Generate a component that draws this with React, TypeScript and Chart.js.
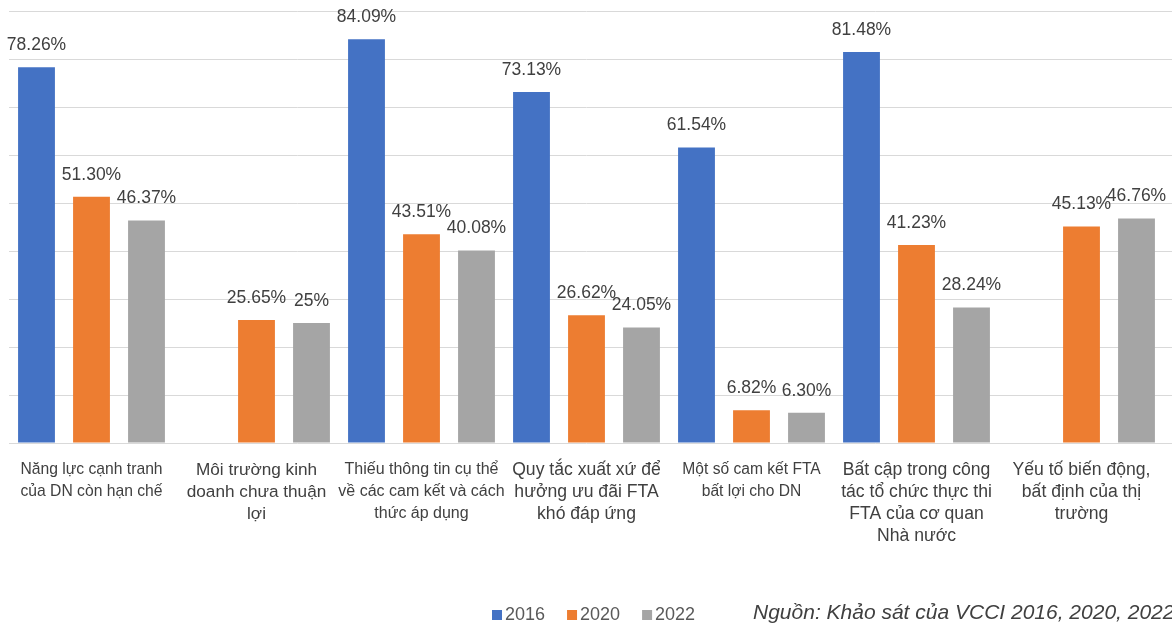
import React, { useEffect, useRef } from "react";
import { Chart, registerables } from "chart.js";

Chart.register(...registerables);

// ---------- DATA ----------
const categories: string[][] = [
  ["Năng lực cạnh tranh", "của DN còn hạn chế"],
  ["Môi trường kinh", "doanh chưa thuận", "lợi"],
  ["Thiếu thông tin cụ thể", "về các cam kết và cách", "thức áp dụng"],
  ["Quy tắc xuất xứ để", "hưởng ưu đãi FTA", "khó đáp ứng"],
  ["Một số cam kết FTA", "bất lợi cho DN"],
  ["Bất cập trong công", "tác tổ chức thực thi", "FTA của cơ quan", "Nhà nước"],
  ["Yếu tố biến động,", "bất định của thị", "trường"],
];
const seriesNames = ["2016", "2020", "2022"];
const values2016: (number | null)[] = [78.26, null, 84.09, 73.13, 61.54, 81.48, null];
const values2020: (number | null)[] = [51.3, 25.65, 43.51, 26.62, 6.82, 41.23, 45.13];
const values2022: (number | null)[] = [46.37, 25, 40.08, 24.05, 6.3, 28.24, 46.76];
const labels2016 = ["78.26%", "", "84.09%", "73.13%", "61.54%", "81.48%", ""];
const labels2020 = ["51.30%", "25.65%", "43.51%", "26.62%", "6.82%", "41.23%", "45.13%"];
const labels2022 = ["46.37%", "25%", "40.08%", "24.05%", "6.30%", "28.24%", "46.76%"];
const yMin = 0;
const yMax = 90;
const yStep = 10;
const sourceNote = "Nguồn: Khảo sát của VCCI 2016, 2020, 2022";

// ---------- STYLE ----------
const COLORS = ["#4472C4", "#ED7D31", "#A5A5A5"];
const GRID = "#d9d9d9";
const TEXT = "#404040";
const FONT = "'Liberation Sans', Arial, sans-serif";
const catFontSizes = [15.7, 17.2, 16, 17.6, 15.6, 17.6, 17.6];

const allValueLabels = [labels2016, labels2020, labels2022];

const extendGridPlugin = {
  id: "extendGrid",
  beforeDatasetsDraw(chart: any) {
    const { ctx, chartArea, scales } = chart;
    const y = scales.y;
    ctx.save();
    ctx.strokeStyle = GRID;
    ctx.lineWidth = 1;
    y.ticks.forEach((t: any) => {
      const py = Math.round(y.getPixelForValue(t.value)) + 0.5;
      ctx.beginPath();
      ctx.moveTo(chartArea.right, py);
      ctx.lineTo(chart.width, py);
      ctx.stroke();
    });
    ctx.restore();
  },
};

const valueLabelPlugin = {
  id: "valueLabels",
  afterDatasetsDraw(chart: any) {
    const { ctx } = chart;
    ctx.save();
    ctx.font = `17.5px ${FONT}`;
    ctx.fillStyle = TEXT;
    ctx.textAlign = "center";
    ctx.textBaseline = "middle";
    chart.data.datasets.forEach((ds: any, di: number) => {
      const meta = chart.getDatasetMeta(di);
      meta.data.forEach((el: any, i: number) => {
        const v = ds.data[i];
        if (v === null || v === undefined) return;
        const txt = allValueLabels[di][i];
        if (!txt) return;
        ctx.fillText(txt, el.x, el.y - 22);
      });
    });
    ctx.restore();
  },
};

const legendSourcePlugin = {
  id: "legendSource",
  afterDraw(chart: any) {
    const { ctx } = chart;
    ctx.save();
    // legend
    ctx.font = `18px ${FONT}`;
    ctx.textBaseline = "middle";
    ctx.textAlign = "left";
    let x = 492;
    const yc = 615;
    chart.data.datasets.forEach((ds: any) => {
      ctx.fillStyle = ds.backgroundColor;
      ctx.fillRect(x, yc - 5, 10, 10);
      ctx.fillStyle = "#595959";
      ctx.fillText(ds.label, x + 13, yc);
      x += 13 + ctx.measureText(ds.label).width + 22;
    });
    // source note
    ctx.font = `italic 21px ${FONT}`;
    ctx.fillStyle = TEXT;
    ctx.fillText(sourceNote, 753, 613);
    ctx.restore();
  },
};

export default function App() {
  const canvasRef = useRef<HTMLCanvasElement | null>(null);

  useEffect(() => {
    if (!canvasRef.current) return;
    const chart = new Chart(canvasRef.current, {
      type: "bar",
      data: {
        labels: categories,
        datasets: [
          { label: seriesNames[0], data: values2016, backgroundColor: COLORS[0] },
          { label: seriesNames[1], data: values2020, backgroundColor: COLORS[1] },
          { label: seriesNames[2], data: values2022, backgroundColor: COLORS[2] },
        ],
      },
      options: {
        responsive: false,
        animation: false,
        layout: { padding: { left: 9, right: 8, top: 11, bottom: 0 } },
        datasets: {
          bar: { barPercentage: 0.67, categoryPercentage: 1.0 },
        },
        plugins: {
          legend: { display: false },
          tooltip: { enabled: false },
          title: { display: false },
        },
        scales: {
          x: {
            grid: { display: false, drawTicks: false },
            border: { display: false },
            ticks: {
              autoSkip: false,
              maxRotation: 0,
              minRotation: 0,
              padding: 16,
              color: TEXT,
              font: (ctx: any) => ({
                family: FONT,
                size: catFontSizes[ctx.index] ?? 16,
                lineHeight: "22px",
              }),
            },
            afterFit: (s: any) => {
              s.height = 183;
            },
          },
          y: {
            min: yMin,
            max: yMax,
            border: { display: false },
            grid: { color: GRID, drawTicks: false, lineWidth: 1 },
            ticks: { display: false, stepSize: yStep },
            afterFit: (s: any) => {
              s.width = 0;
            },
          },
        },
      },
      plugins: [extendGridPlugin, valueLabelPlugin, legendSourcePlugin],
    });
    return () => chart.destroy();
  }, []);

  return (
    <div
      style={{
        position: "fixed",
        left: 0,
        top: 0,
        width: 1172,
        height: 626,
        background: "#ffffff",
        overflow: "hidden",
      }}
    >
      <canvas ref={canvasRef} width={1172} height={626} style={{ display: "block" }} />
    </div>
  );
}
